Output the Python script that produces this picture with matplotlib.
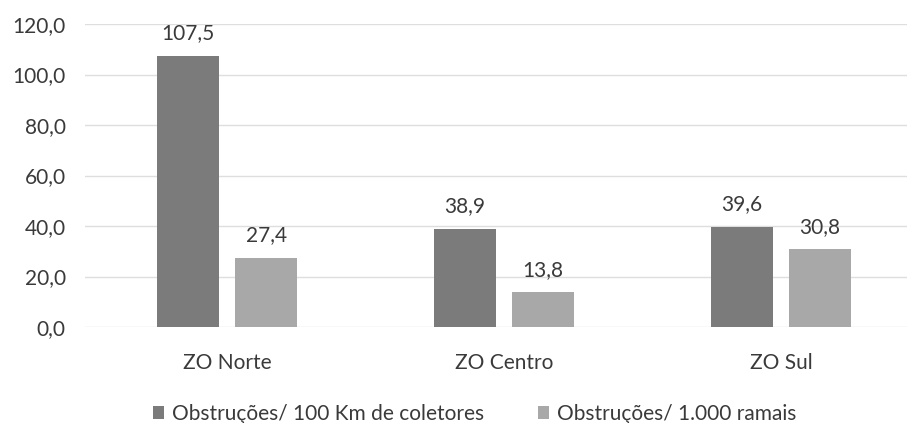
import matplotlib.pyplot as plt
import numpy as np

zonas = ["ZO Norte", "ZO Centro", "ZO Sul"]
obstr_km = [107.5, 38.9, 39.6]
obstr_ramais = [27.4, 13.8, 30.8]
serie_labels = ["Obstruções/ 100 Km de coletores", "Obstruções/ 1.000 ramais"]
yticks = [0, 20, 40, 60, 80, 100, 120]

plt.rcParams['font.family'] = ['Lato', 'DejaVu Sans']
txt = '#3a3a3a'
fs = 15

fig = plt.figure(figsize=(9.07, 4.23), dpi=100)
ax = fig.add_axes([0.094, 0.227, 0.906, 0.716])

x = np.arange(len(zonas))
w = 0.224
off = 0.141
b1 = ax.bar(x - off, obstr_km, w, color='#7b7b7b', label=serie_labels[0], zorder=2)
b2 = ax.bar(x + off, obstr_ramais, w, color='#a8a8a8', label=serie_labels[1], zorder=2)

def fmt(v):
    return f"{v:.1f}".replace('.', ',')

# value labels above each bar
for bars, vals in ((b1, obstr_km), (b2, obstr_ramais)):
    for r, v in zip(bars, vals):
        ax.annotate(fmt(v), (r.get_x() + r.get_width() / 2, v), xytext=(0, 9),
                    textcoords='offset points', ha='center', va='bottom',
                    fontsize=fs, color=txt)

ax.set_ylim(0, 120)
ax.set_xlim(-0.513, 2.455)
ax.set_yticks(yticks, labels=[fmt(t) for t in yticks])
ax.set_xticks(x, labels=zonas)
ax.tick_params(length=0, labelsize=fs, colors=txt)
ax.tick_params(axis='x', pad=19)
ax.tick_params(axis='y', pad=14)
ax.grid(axis='y', color='#dedede', lw=1, zorder=0)
for s in ax.spines.values():
    s.set_visible(False)

fig.legend(loc='center', bbox_to_anchor=(0.523, 0.022), ncol=2, frameon=False,
           fontsize=fs, labelcolor=txt, handlelength=0.55, handleheight=0.55,
           handletextpad=0.35, columnspacing=2.6)

fig.savefig('out.png', dpi=100)
